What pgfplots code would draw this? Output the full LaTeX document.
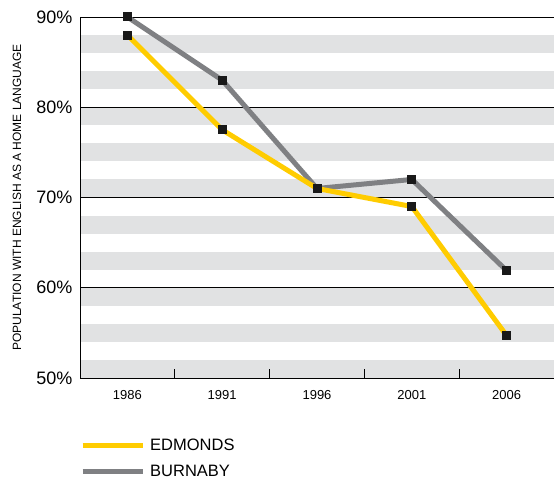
\documentclass[border=0pt]{standalone}
\usepackage{pgfplots}
\pgfplotsset{compat=1.18}
\usepackage{fontspec}
\setmainfont{Liberation Sans}
\definecolor{edm}{HTML}{FFCC00}
\definecolor{bur}{HTML}{7F8083}
\definecolor{stripe}{HTML}{E1E2E3}
\begin{document}
\begin{tikzpicture}
\begin{axis}[
  set layers,
  at={(80pt,102pt)}, anchor=south west,
  scale only axis, width=474pt, height=361pt,
  xmin=1983.5, xmax=2008.5, ymin=50, ymax=90,
  axis x line*=bottom, axis y line*=left,
  axis line style={black, line width=0.9pt},
  xtick={1986,1991,1996,2001,2006},
  xticklabels={1986,1991,1996,2001,2006},
  minor xtick={1988.5,1993.5,1998.5,2003.5},
  major tick length=0pt, minor tick length=9pt,
  tick align=inside,
  minor tick style={black, line width=0.8pt},
  x tick label style={font=\fontsize{13}{15}\selectfont, yshift=-9pt},
  ytick={50,60,70,80,90},
  yticklabels={50\%,60\%,70\%,80\%,90\%},
  y tick label style={font=\fontsize{18}{20}\selectfont, xshift=-4pt},
  ymajorgrids, grid style={black, line width=0.8pt},
  ylabel={POPULATION WITH ENGLISH AS A HOME LANGUAGE},
  ylabel style={font=\fontsize{12}{14}\selectfont, at={(axis description cs:-0.133,0.5)}, anchor=center},
  legend style={draw=none, fill=none, at={(0,-0.162)}, anchor=north west,
    font=\fontsize{16.5}{19}\selectfont, row sep=9pt, inner sep=0pt},
  legend cell align=left,
  legend image code/.code={\draw[#1, mark=none] (0pt,0pt) -- (60pt,0pt);},
]
\begin{pgfonlayer}{axis background}
\fill[stripe] (axis cs:1983.5,50) rectangle (axis cs:2008.5,52);
\fill[stripe] (axis cs:1983.5,54) rectangle (axis cs:2008.5,56);
\fill[stripe] (axis cs:1983.5,58) rectangle (axis cs:2008.5,60);
\fill[stripe] (axis cs:1983.5,62) rectangle (axis cs:2008.5,64);
\fill[stripe] (axis cs:1983.5,66) rectangle (axis cs:2008.5,68);
\fill[stripe] (axis cs:1983.5,70) rectangle (axis cs:2008.5,72);
\fill[stripe] (axis cs:1983.5,74) rectangle (axis cs:2008.5,76);
\fill[stripe] (axis cs:1983.5,78) rectangle (axis cs:2008.5,80);
\fill[stripe] (axis cs:1983.5,82) rectangle (axis cs:2008.5,84);
\fill[stripe] (axis cs:1983.5,86) rectangle (axis cs:2008.5,88);
\end{pgfonlayer}
\addplot[bur, line width=5pt, mark=square*, mark size=4pt,
  mark options={fill=black!90, draw=black!90, line width=0pt}, forget plot]
  coordinates {(1986,90) (1991,83) (1996,71) (2001,72) (2006,61.9)};
\addplot[edm, line width=5pt, mark=square*, mark size=4pt,
  mark options={fill=black!90, draw=black!90, line width=0pt}]
  coordinates {(1986,88) (1991,77.5) (1996,71) (2001,69) (2006,54.7)};
\addlegendentry{\hspace{3pt}EDMONDS}
\addlegendimage{bur, line width=5pt}
\addlegendentry{\hspace{3pt}BURNABY}
\end{axis}
\pgfresetboundingbox
\path[use as bounding box] (0pt,0pt) rectangle (554pt,480pt);
\end{tikzpicture}
\end{document}
